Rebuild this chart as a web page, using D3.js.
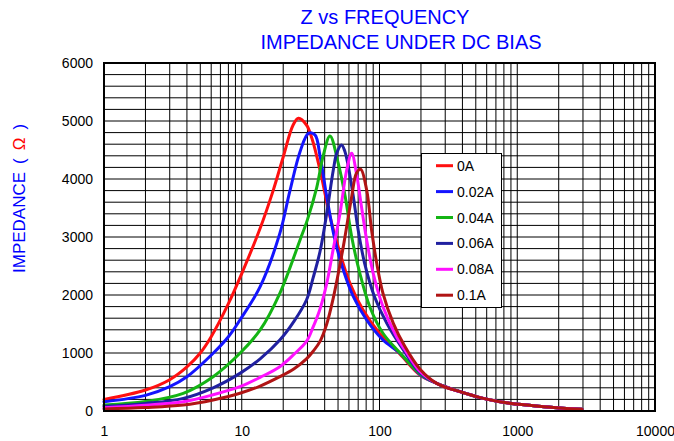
<!DOCTYPE html>
<html>
<head>
<meta charset="utf-8">
<script src="https://cdn.jsdelivr.net/npm/d3@7"></script>
<style>
  html, body { margin: 0; padding: 0; background: #fff; }
  svg { display: block; }
  text { font-family: "Liberation Sans", Arial, sans-serif; }
</style>
</head>
<body>
<svg id="chart" width="674" height="441"></svg>
<script>
// ---- data ----
const titleLines = ["Z vs FREQUENCY", "IMPEDANCE UNDER DC BIAS"];
const seriesNames = ["0A", "0.02A", "0.04A", "0.06A", "0.08A", "0.1A"];
const seriesColors = ["#ff1010", "#1414ff", "#14b414", "#2020a0", "#ff10ff", "#b01414"];
const xTickValues = [1, 10, 100, 1000, 10000];
const yTickValues = [0, 1000, 2000, 3000, 4000, 5000, 6000];

const tail = [[260, 477], [384, 333], [566, 218], [886, 132], [1560, 75], [2950, 29]];

const s0A = [[1, 200], [2, 362], [3, 540], [4, 760], [5, 1000], [6, 1280], [8, 1850], [10, 2370], [13.6, 3150], [16.9, 3800], [20, 4380], [23.6, 4931], [25.8, 5046], [29.5, 4931], [32.3, 4701], [37, 4155], [43.7, 3350], [51.7, 2719], [61, 2201], [76, 1741], [100, 1340], [141, 980], [197, 620]].concat(tail);
const s002A = [[1, 160], [2, 270], [3, 420], [4, 590], [6.2, 995], [8, 1280], [9.7, 1569], [13.6, 2143], [18.9, 3063], [22.3, 3781], [26.5, 4471], [30.5, 4787], [34, 4760], [37, 4400], [41.4, 3695], [47.5, 2948], [54.6, 2431], [64.6, 1971], [80.7, 1569], [106, 1224], [141, 995], [197, 630]].concat(tail);
const s004A = [[1, 105], [2, 165], [3.76, 305], [6.2, 592], [9.7, 995], [13.6, 1397], [18.9, 2029], [26.5, 2950], [30, 3300], [35, 3850], [39, 4400], [43.7, 4741], [50.2, 4270], [56.4, 3695], [62.8, 3005], [72, 2374], [85, 1798], [106, 1340], [141, 1000], [197, 640]].concat(tail);
const s006A = [[1, 80], [2, 130], [3.76, 218], [6.2, 400], [9.7, 649], [13.6, 900], [18.9, 1224], [24, 1550], [29.5, 1914], [33, 2300], [37, 2750], [41.4, 3409], [46.2, 4155], [49, 4450], [53, 4586], [56, 4480], [59.4, 4212], [64.6, 3695], [70, 3121], [78, 2546], [92, 1971], [113, 1512], [149, 1052], [197, 660]].concat(tail);
const s008A = [[1, 55], [2, 100], [3.76, 160], [6.2, 280], [9.7, 419], [13.6, 580], [18.9, 764], [24, 980], [29.5, 1200], [33, 1450], [37, 1760], [41.4, 2200], [46.2, 2800], [51.7, 3409], [57.8, 4155], [62.8, 4443], [68, 4098], [74, 3522], [80.7, 2948], [90, 2374], [106, 1798], [133, 1281], [153, 1052], [197, 680]].concat(tail);
const s01A = [[1, 35], [2, 60], [3.76, 103], [6.2, 190], [9.7, 305], [13.6, 430], [18.9, 592], [24, 730], [29.5, 900], [33, 1030], [37, 1200], [41.4, 1500], [46.2, 1950], [54.6, 2834], [62.8, 3695], [68, 4098], [73, 4167], [80.7, 3810], [87.6, 3121], [95.5, 2546], [106, 2029], [126, 1512], [153, 1110], [197, 720]].concat(tail);

const seriesData = [s0A, s002A, s004A, s006A, s008A, s01A];

// ---- layout ----
const svg = d3.select("#chart");
const pL = 104, pR = 655, pT = 63, pB = 411;

const x = d3.scaleLog().domain([1, 10000]).range([pL, pR]);
const y = d3.scaleLinear().domain([0, 6000]).range([pB, pT]);

// grid
const vGrid = [];
for (let d = 1; d < 10000; d *= 10) for (let k = 1; k <= 9; k++) vGrid.push(d * k);
const hGrid = d3.range(0, 6001, 200);

const grid = svg.append("g");
grid.selectAll("line.v").data(vGrid).join("line").attr("class", "v")
  .attr("x1", d => x(d)).attr("x2", d => x(d))
  .attr("y1", pT).attr("y2", pB)
  .attr("stroke", "#000").attr("stroke-width", 1);
grid.selectAll("line.h").data(hGrid).join("line").attr("class", "h")
  .attr("x1", pL).attr("x2", pR)
  .attr("y1", d => y(d)).attr("y2", d => y(d))
  .attr("stroke", "#000").attr("stroke-width", 1);

// curves
const line = d3.line()
  .x(d => x(d[0])).y(d => y(d[1]))
  .curve(d3.curveCatmullRom.alpha(0.5));

svg.append("g").selectAll("path").data(seriesData).join("path")
  .attr("d", line)
  .attr("fill", "none")
  .attr("stroke", (d, i) => seriesColors[i])
  .attr("stroke-width", 3)
  .attr("stroke-linejoin", "round")
  .attr("stroke-linecap", "round");

// frame
svg.append("rect")
  .attr("x", pL).attr("y", pT)
  .attr("width", pR - pL).attr("height", pB - pT)
  .attr("fill", "none").attr("stroke", "#000").attr("stroke-width", 2);

// axes
const yAxis = d3.axisLeft(y).tickValues(yTickValues).tickSize(0).tickPadding(11).tickFormat(d3.format("d"));
const gy = svg.append("g").attr("transform", `translate(${pL},0)`).call(yAxis);
gy.select(".domain").remove();
gy.selectAll("text").attr("font-size", 14).attr("fill", "#000")
  .style("font-family", '"Liberation Sans", Arial, sans-serif');

const xAxis = d3.axisBottom(x).tickValues(xTickValues).tickSize(0).tickPadding(15).tickFormat(d3.format("d"));
const gx = svg.append("g").attr("transform", `translate(0,${pB})`).call(xAxis);
gx.select(".domain").remove();
gx.selectAll("text").attr("font-size", 14).attr("fill", "#000")
  .style("font-family", '"Liberation Sans", Arial, sans-serif');

// title
svg.append("text").attr("x", 385).attr("y", 24).attr("text-anchor", "middle")
  .attr("font-size", 20).attr("fill", "#0000ff").text(titleLines[0]);
svg.append("text").attr("x", 401).attr("y", 49).attr("text-anchor", "middle")
  .attr("font-size", 20).attr("fill", "#0000ff").text(titleLines[1]);

// y label
const yl = svg.append("text")
  .attr("transform", "translate(25,273) rotate(-90)")
  .attr("font-size", 17).attr("fill", "#0000ff");
yl.append("tspan").text("IMPEDANCE");
yl.append("tspan").attr("dx", 8).text("(");
yl.append("tspan").attr("dx", 8).attr("fill", "#ff0000").text("Ω");
yl.append("tspan").attr("dx", 8).text(")");

// legend
const lg = svg.append("g");
lg.append("rect").attr("x", 421.5).attr("y", 153.5).attr("width", 80).attr("height", 154)
  .attr("fill", "#fff").attr("stroke", "#000").attr("stroke-width", 1);
const rows = lg.selectAll("g.row").data(seriesNames).join("g").attr("class", "row")
  .attr("transform", (d, i) => `translate(0,${165.7 + i * 25.9})`);
rows.append("line").attr("x1", 436).attr("x2", 453).attr("y1", 0).attr("y2", 0)
  .attr("stroke", (d, i) => seriesColors[i]).attr("stroke-width", 3);
rows.append("text").attr("x", 457).attr("y", 5).attr("font-size", 14).attr("fill", "#000")
  .text(d => d);
</script>
</body>
</html>
